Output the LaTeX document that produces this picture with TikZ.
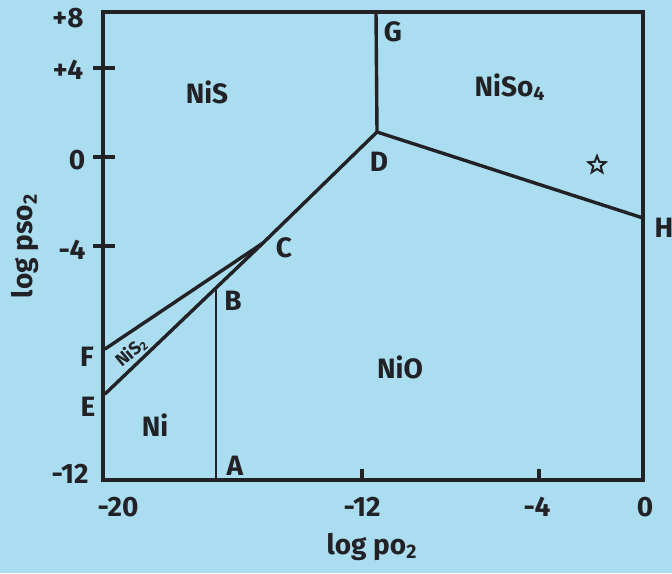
\documentclass[tikz,border=0pt]{standalone}
\usepackage{fontspec}
\setmainfont{Fira Sans}
\usetikzlibrary{shapes.geometric}
\definecolor{paper}{RGB}{171,221,240}
\definecolor{ink}{RGB}{34,34,38}
\tikzset{
  phase/.style={text=ink, font=\fontsize{14}{16}\selectfont\bfseries},
  ptlab/.style={text=ink, font=\fontsize{14}{16}\selectfont\bfseries},
  ticklab/.style={text=ink, font=\fontsize{14}{16}\selectfont\bfseries},
  bound/.style={draw=ink, line width=1.7pt, line join=round, line cap=round},
}
\begin{document}
\begin{tikzpicture}[x=0.5pt, y=-0.5pt]
  % page
  \fill[paper] (0,0) rectangle (672,573);
  \useasboundingbox (0,0) rectangle (672,573);
  % corners and triple points
  \coordinate (tl) at (103,12);
  \coordinate (br) at (643,480);
  \coordinate (G) at (376,12);
  \coordinate (D) at (377,132);
  \coordinate (H) at (643,218);
  \coordinate (C) at (263,243);
  \coordinate (F) at (105,349);
  \coordinate (E) at (105,394);
  \coordinate (B) at (216,288);
  \coordinate (A) at (216,480);
  % frame
  \draw[ink, line width=2.2pt] (tl) rectangle (br);
  % axis ticks
  \foreach \yy in {68,157,246}
    \draw[ink, line width=1.7pt] (93,\yy) -- (115,\yy);
  \foreach \xx in {362,539}
    \draw[ink, line width=1.7pt] (\xx,480) -- (\xx,469);
  % phase boundaries
  \draw[bound] (G) -- (D);
  \draw[bound] (D) -- (H);
  \draw[bound] (D) -- (C);
  \draw[bound] (C) -- (F);
  \draw[bound] (C) -- (E);
  \draw[ink, line width=1.2pt] (B) -- (A);
  % tick labels
  \node[ticklab] (y8) at (68,18) {+8};
  \node[ticklab] (y4) at (68,70) {+4};
  \node[ticklab] (y0) at (77,160) {0};
  \node[ticklab] (ym4) at (72,250) {-4};
  \node[ticklab] (ym12) at (70,474) {-12};
  \node[ticklab] (xm20) at (118,507) {-20};
  \node[ticklab] (xm12) at (362,507) {-12};
  \node[ticklab] (xm4) at (537,507) {-4};
  \node[ticklab] (x0) at (645,507) {0};
  % axis titles
  \node[ticklab] (xtitle) at (372,547) {log po\textsubscript{2}};
  \node[ticklab, rotate=90] (ytitle) at (25,246) {log pso\textsubscript{2}};
  % point labels
  \node[ptlab] (labG) at (393,32) {G};
  \node[ptlab] (labD) at (379,162) {D};
  \node[ptlab] (labH) at (664,228) {H};
  \node[ptlab] (labC) at (284,248) {C};
  \node[ptlab] (labB) at (233,301) {B};
  \node[ptlab] (labA) at (235,466) {A};
  \node[ptlab] (labF) at (87,357) {F};
  \node[ptlab] (labE) at (88,407) {E};
  % phase fields
  \node[phase] (nis) at (207,92) {NiS};
  \node[phase] (niso) at (510,87) {NiSo\textsubscript{4}};
  \node[phase] (nio) at (400,367) {NiO};
  \node[phase] (ni) at (155,425) {Ni};
  \node[text=ink, font=\fontsize{9}{11}\selectfont\bfseries, rotate=40, inner sep=0pt] (nis2) at (131,352) {NiS\textsubscript{2}};
  % star
  \node[star, star points=5, star point ratio=2.3, draw=ink, line width=1pt,
        minimum size=9pt, inner sep=0pt] (sym) at (597,165) {};
\end{tikzpicture}
\end{document}
